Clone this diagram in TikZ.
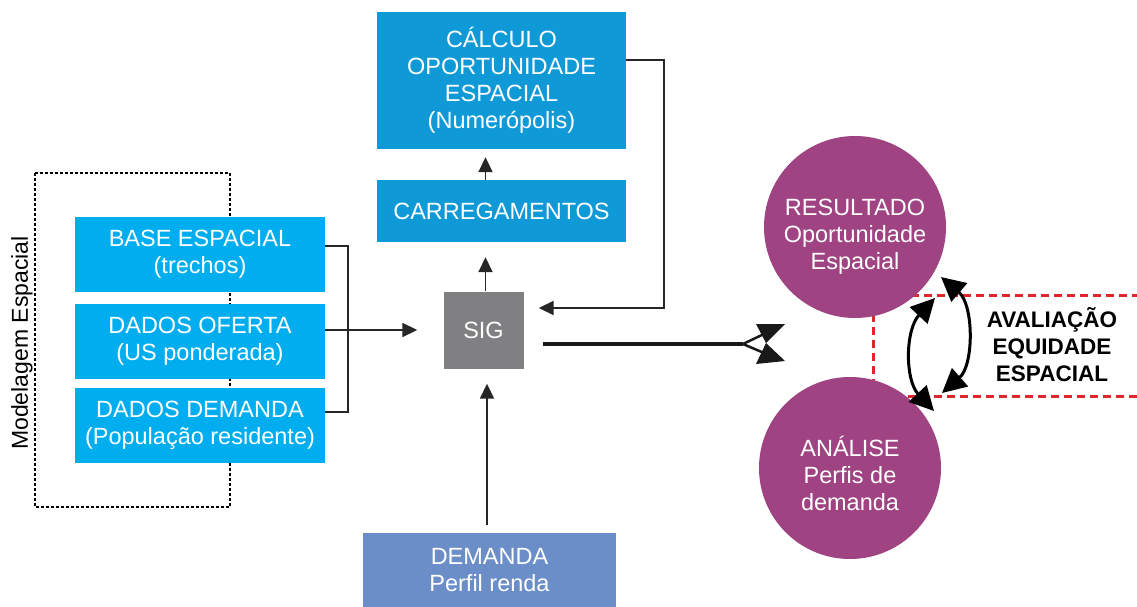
\documentclass[tikz,border=0pt]{standalone}
\usepackage{fontspec}
\setmainfont{Liberation Sans}
\usetikzlibrary{arrows.meta}
\definecolor{cyanbox}{HTML}{00AEEF}
\definecolor{bluebox}{HTML}{0F99D7}
\definecolor{sigray}{HTML}{808082}
\definecolor{slateblue}{HTML}{6B8DC8}
\definecolor{purplec}{HTML}{9F4382}
\definecolor{reddash}{HTML}{E0262B}
\begin{document}
\begin{tikzpicture}[x=1pt,y=-1pt,
  txt/.style={font=\fontsize{23.5}{27}\selectfont, align=center, text=white, inner sep=0pt},
  cbox/.style={txt, fill=cyanbox, minimum width=250pt, minimum height=75pt},
  bbox/.style={txt, fill=bluebox, minimum width=249pt},
  pcirc/.style={circle, fill=purplec, minimum size=182pt, inner sep=0pt},
  conn/.style={line width=1.8pt, draw=black!85},
  arr/.style={conn, -{Triangle[length=15pt,width=14pt]}},
  bigtip/.style={line width=3pt, {Triangle[length=24pt,width=24pt]}-{Triangle[length=24pt,width=24pt]}},
]
\useasboundingbox (0,0) rectangle (1137,607);
\fill[white] (0,0) rectangle (1137,607);

% dashed grouping box
\draw[line width=1.2pt, dash pattern=on 3pt off 2pt] (35,173) rectangle (230,507);
\node[font=\fontsize{23}{27}\selectfont, rotate=90, inner sep=0pt] (mod) at (22,343) {Modelagem Espacial};

% red dashed evaluation box (behind circles)
\draw[reddash, line width=3pt, dash pattern=on 8pt off 5pt] (1140,295) -| (873,396) -- (1140,396);

% left input boxes
\node[cbox] (base) at (200,254.5) {BASE ESPACIAL\\(trechos)};
\node[cbox] (oferta) at (200,341.5) {DADOS OFERTA\\(US ponderada)};
\node[cbox] (demanda) at (200,425.5) {DADOS DEMANDA\\(População residente)};

% central column
\node[bbox, minimum height=137pt] (calc) at (501.5,80.5) {CÁLCULO\\OPORTUNIDADE\\ESPACIAL\\(Numerópolis)};
\node[bbox, minimum height=62pt] (carr) at (501.5,211) {CARREGAMENTOS};
\node[txt, fill=sigray, minimum width=80pt, minimum height=77pt] (sig) at (483.5,330) {SIG};
\node[txt, fill=slateblue, minimum width=253pt, minimum height=74pt] (dem2) at (489.5,570) {DEMANDA\\Perfil renda};

% circles
\node[pcirc] (res) at (855,227) {};
\node[txt] (restxt) at (855,237) {RESULTADO\\Oportunidade\\Espacial};
\node[pcirc] (ana) at (850,468) {};
\node[txt] (anatxt) at (850,473) {ANÁLISE\\Perfis de\\demanda};

% evaluation text
\node[font=\bfseries\fontsize{22.5}{27}\selectfont, align=center, inner sep=0pt] (aval) at (1052,345) {AVALIAÇÃO\\EQUIDADE\\ESPACIAL};

% connectors
\draw[conn] ([yshift=8.5pt]base.east) -- ++(23,0) |- ([yshift=13.5pt]demanda.east);
\draw[arr] ([yshift=11.5pt]oferta.east) -- ([xshift=-26pt]sig.west);
\draw[arr, shorten >=15pt] ([xshift=2pt]sig.north) -- ([xshift=2pt]sig.north |- carr.south);
\draw[arr, shorten >=8pt] (sig.north |- carr.north) ++(2,0) coordinate (c1) -- (c1 |- calc.south);
\draw[arr] ([yshift=20.5pt]calc.east) -- ++(38,0) |- ([xshift=15pt,yshift=22pt]sig.east);
\draw[arr, shorten <=8pt, shorten >=15pt] ([xshift=3.5pt]dem2.north -| sig.south) coordinate (d1) -- (d1 |- sig.south);

% thick output arrow with its odd head
\coordinate (tail) at (743,344);
\draw[line width=4pt, draw=black!90] ([xshift=19pt,yshift=-14pt]sig.east) -- (tail);
\draw[line width=2.5pt, draw=black!90, line join=miter] (764,334) -- (tail) -- (764,353);
\fill[black!90] (756,324) -- (785,324) -- (766,343) -- cycle;
\fill[black!90] (766,343) -- (785,361) -- (756,364) -- cycle;

% double curved arrows
\draw[bigtip] (935,298) .. controls (905,330) and (905,380) .. (934,411);
\draw[bigtip] (941,277) .. controls (974,305) and (974,365) .. (942,393);
\end{tikzpicture}
\end{document}
